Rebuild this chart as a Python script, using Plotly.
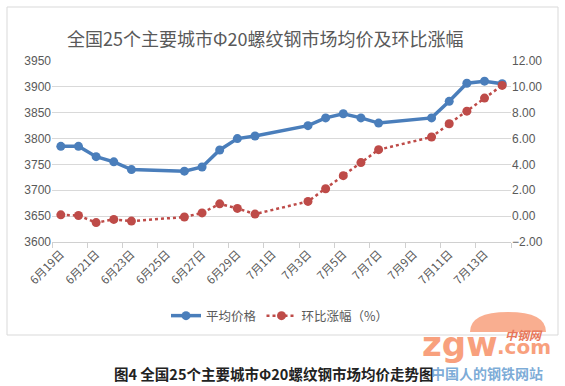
import plotly.graph_objects as go

# ---- data ----
dates = ["2017-06-19", "2017-06-20", "2017-06-21", "2017-06-22", "2017-06-23",
         "2017-06-26", "2017-06-27", "2017-06-28", "2017-06-29", "2017-06-30",
         "2017-07-03", "2017-07-04", "2017-07-05", "2017-07-06", "2017-07-07",
         "2017-07-10", "2017-07-11", "2017-07-12", "2017-07-13", "2017-07-14"]
avg_price = [3785, 3785, 3765, 3755, 3740, 3737, 3745, 3778, 3800, 3805,
             3825, 3840, 3848, 3840, 3830, 3840, 3872, 3907, 3911, 3906]
mom_change = [0.10, 0.05, -0.50, -0.25, -0.38, -0.07, 0.25, 0.95, 0.60, 0.16,
              1.14, 2.12, 3.13, 4.14, 5.14, 6.12, 7.15, 8.12, 9.13, 10.11]
tick_dates = ["2017-06-19", "2017-06-21", "2017-06-23", "2017-06-25", "2017-06-27",
              "2017-06-29", "2017-07-01", "2017-07-03", "2017-07-05", "2017-07-07",
              "2017-07-09", "2017-07-11", "2017-07-13"]
tick_labels = ["6月19日", "6月21日", "6月23日", "6月25日", "6月27日", "6月29日",
               "7月1日", "7月3日", "7月5日", "7月7日", "7月9日", "7月11日", "7月13日"]

W, H = 565, 386
L, R, T, B = 52, 511, 61, 242
CJK = "Noto Sans CJK SC"
GRAY = "#595959"


def px(x):
    return (x - L) / (R - L)


def py(y):
    return (B - y) / (B - T)


fig = go.Figure()
fig.add_trace(go.Scatter(
    x=dates, y=avg_price, name="平均价格", mode="lines+markers",
    line=dict(color="#4a7ebb", width=3.5),
    marker=dict(size=9, color="#4a7ebb"),
))
fig.add_trace(go.Scatter(
    x=dates, y=mom_change, name="环比涨幅（%）", mode="lines+markers", yaxis="y2",
    line=dict(color="#be4b48", width=2.5, dash="dot"),
    marker=dict(size=9, color="#be4b48"),
))

fig.update_layout(
    width=W, height=H,
    margin=dict(l=L, r=W - R, t=T, b=H - B),
    paper_bgcolor="white", plot_bgcolor="white",
    font=dict(family=CJK, color=GRAY, size=11),
    showlegend=True,
    legend=dict(orientation="h", x=px(280), xanchor="center", y=py(316), yanchor="middle",
                font=dict(size=12.5, color=GRAY, family=CJK), itemwidth=30,
                tracegroupgap=0),
    xaxis=dict(
        type="date",
        range=["2017-06-18 12:00", "2017-07-14 12:00"],
        tickmode="array", tickvals=tick_dates, ticktext=tick_labels,
        tickangle=-45, ticks="", showgrid=False,
        showline=True, linecolor="#d0d0d0", linewidth=1,
        tickfont=dict(size=11.5, color=GRAY, family=CJK),
        minor=dict(tickmode="linear", tick0="2017-06-18 12:00", dtick=2 * 86400000,
                   ticks="outside", ticklen=5, tickcolor="#d0d0d0", showgrid=False),
    ),
    yaxis=dict(
        range=[3600, 3950], dtick=50, tick0=3600,
        showgrid=True, gridcolor="#d9d9d9", gridwidth=1, zeroline=False,
        showline=False, ticks="",
        tickfont=dict(size=12, color=GRAY, family="Liberation Sans"),
    ),
    yaxis2=dict(
        range=[-2, 12], dtick=2, tick0=-2, overlaying="y", side="right",
        tickformat=".2f", showgrid=False, zeroline=False, showline=False, ticks="",
        tickfont=dict(size=12, color=GRAY, family="Liberation Sans"),
    ),
)

shapes = [
    # chart frame
    dict(type="rect", xref="paper", yref="paper",
         x0=px(7), x1=px(558), y0=py(335), y1=py(7),
         line=dict(color="#d9d9d9", width=1), fillcolor="rgba(0,0,0,0)", layer="below"),
]
# watermark globe (decorative)
gx0, gx1, gtop, gbot = 470, 546, 312, 332
cx = (gx0 + gx1) / 2
path = (f"M {px(gx0)} {py(gbot)} Q {px(gx0)} {py(gtop)} {px(cx)} {py(gtop)} "
        f"Q {px(gx1)} {py(gtop)} {px(gx1)} {py(gbot)} Z")
shapes.append(dict(type="path", xref="paper", yref="paper", path=path,
                   fillcolor="rgba(248,160,125,0.85)", line=dict(width=0)))
fig.update_layout(shapes=shapes)

annotations = [
    dict(text="全国25个主要城市Φ20螺纹钢市场均价及环比涨幅", x=px(265), y=py(38),
         xref="paper", yref="paper", showarrow=False, xanchor="center", yanchor="middle",
         font=dict(size=18, color=GRAY, family=CJK)),
    dict(text="<b>zgw</b>", x=px(420), y=py(344), xref="paper", yref="paper",
         showarrow=False, xanchor="left", yanchor="middle",
         font=dict(size=34, color="#f8a07d", family="DejaVu Sans")),
    dict(text="<b>.com</b>", x=px(495), y=py(347), xref="paper", yref="paper",
         showarrow=False, xanchor="left", yanchor="middle",
         font=dict(size=20, color="#f8a07d", family="DejaVu Sans")),
    dict(text="<b><i>中钢网</i></b>", x=px(545), y=py(334), xref="paper", yref="paper",
         showarrow=False, xanchor="right", yanchor="middle",
         font=dict(size=12, color="#e8775a", family=CJK)),
    dict(text="<b>图4 全国25个主要城市Φ20螺纹钢市场均价走势图</b>", x=px(112), y=py(373),
         xref="paper", yref="paper", showarrow=False, xanchor="left", yanchor="middle",
         font=dict(size=14.5, color="#222222", family=CJK)),
    dict(text="<b>中国人的钢铁网站</b>", x=px(545), y=py(373), xref="paper", yref="paper",
         showarrow=False, xanchor="right", yanchor="middle",
         font=dict(size=14, color="rgba(90,150,205,0.8)", family=CJK)),
]
fig.update_layout(annotations=annotations)

fig.write_html("out.html", config={"displayModeBar": False},
               post_script="document.body.style.margin='0';document.body.style.overflow='hidden';")
